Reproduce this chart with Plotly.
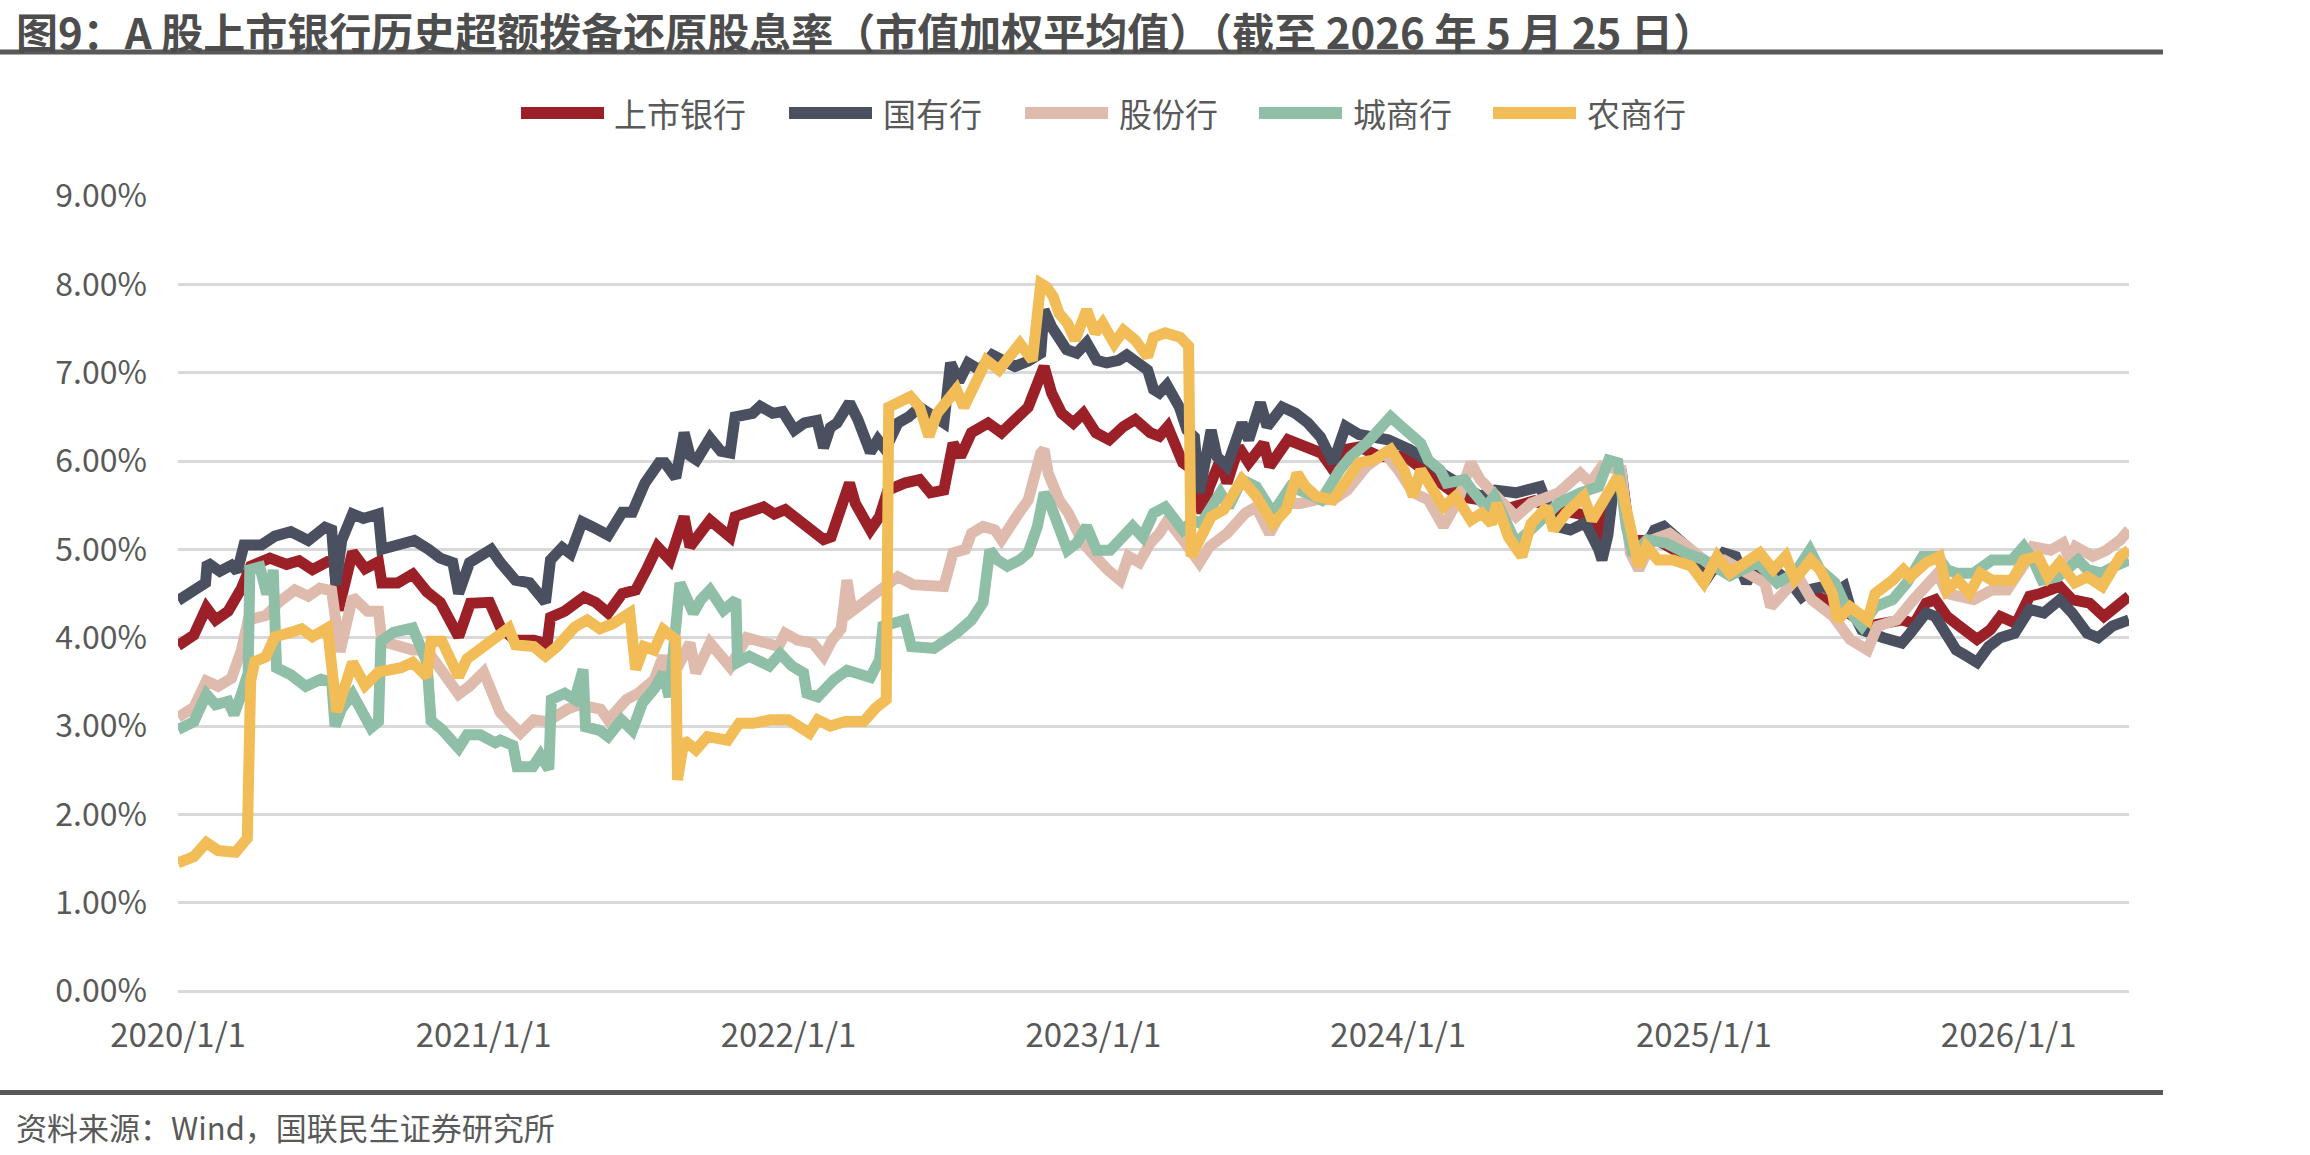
import plotly.graph_objects as go

# ---------------- data (values in %) ----------------
soe_dates = ["2020-01-01","2020-01-20","2020-02-03","2020-02-05","2020-02-20","2020-03-05","2020-03-12","2020-03-20","2020-04-10","2020-04-26",
"2020-05-15","2020-06-05","2020-06-25","2020-07-03","2020-07-08","2020-07-15","2020-07-28","2020-08-10","2020-08-28","2020-09-01",
"2020-09-20","2020-10-10","2020-10-27","2020-11-10","2020-11-25","2020-12-02","2020-12-15","2021-01-01","2021-01-10","2021-01-21",
"2021-02-08","2021-02-25","2021-03-16","2021-03-22","2021-04-05","2021-04-15","2021-04-29","2021-05-12","2021-05-30","2021-06-16",
"2021-06-28","2021-07-13","2021-07-30","2021-08-06","2021-08-19","2021-08-29","2021-09-05","2021-09-13","2021-09-29","2021-10-12",
"2021-10-23","2021-10-29","2021-11-19","2021-11-28","2021-12-13","2021-12-25","2022-01-08","2022-01-20","2022-02-04","2022-02-12",
"2022-02-20","2022-02-28","2022-03-15","2022-03-25","2022-04-09","2022-04-18","2022-04-27","2022-05-12","2022-05-25","2022-06-07",
"2022-06-20","2022-07-06","2022-07-14","2022-07-24","2022-08-04","2022-08-18","2022-09-02","2022-09-15","2022-09-29","2022-10-15",
"2022-10-30","2022-11-03","2022-11-12","2022-11-30","2022-12-12","2022-12-24","2023-01-05","2023-01-17","2023-01-31","2023-02-10",
"2023-02-22","2023-03-07","2023-03-14","2023-03-21","2023-03-30","2023-04-14","2023-04-23","2023-05-02","2023-05-08","2023-05-15",
"2023-05-22","2023-05-29","2023-06-10","2023-06-28","2023-07-06","2023-07-20","2023-07-28","2023-08-15","2023-08-31","2023-09-15",
"2023-09-30","2023-10-15","2023-10-30","2023-11-15","2023-12-02","2023-12-20","2024-01-15","2024-02-06","2024-02-24","2024-03-13",
"2024-04-08","2024-04-26","2024-05-21","2024-06-19","2024-07-08","2024-07-25","2024-08-12","2024-08-28","2024-09-01","2024-09-08",
"2024-09-14","2024-09-24","2024-09-28","2024-10-05","2024-10-18","2024-11-03","2024-11-14","2024-11-30","2024-12-15","2025-01-01",
"2025-01-15","2025-01-25","2025-02-08","2025-02-21","2025-03-05","2025-03-26","2025-04-15","2025-04-28","2025-05-10","2025-05-25",
"2025-06-05","2025-06-18","2025-06-25","2025-07-09","2025-08-04","2025-08-26","2025-09-05","2025-09-24","2025-10-05","2025-10-19",
"2025-10-30","2025-11-10","2025-11-24","2025-12-08","2025-12-22","2026-01-08","2026-01-26","2026-02-12","2026-03-03","2026-03-18",
"2026-04-05","2026-04-18","2026-05-05","2026-05-25"]
soe_vals = [4.42,4.55,4.62,4.85,4.75,4.82,4.75,5.05,5.05,5.15,
5.20,5.10,5.25,5.22,4.60,5.10,5.40,5.35,5.40,5.00,
5.05,5.10,5.00,4.90,4.85,4.50,4.85,4.95,5.00,4.85,
4.65,4.62,4.40,4.88,5.02,4.95,5.31,5.25,5.16,5.42,
5.42,5.75,5.98,5.98,5.81,6.32,6.06,6.01,6.26,6.11,
6.09,6.50,6.54,6.62,6.54,6.56,6.35,6.43,6.46,6.15,
6.38,6.43,6.66,6.47,6.10,6.24,6.13,6.43,6.50,6.61,
6.52,6.43,7.11,6.90,7.11,7.03,7.20,7.14,7.07,7.13,
7.22,7.71,7.52,7.26,7.22,7.34,7.14,7.11,7.14,7.20,
7.11,7.03,6.81,6.77,6.86,6.61,6.35,6.27,5.64,6.00,
6.35,6.05,5.94,6.43,6.24,6.66,6.39,6.61,6.54,6.43,
6.27,5.98,6.39,6.30,6.27,6.24,6.13,6.00,5.85,5.75,
5.60,5.67,5.64,5.71,5.26,5.22,5.30,5.00,4.88,5.16,
5.64,5.90,5.50,5.07,4.94,5.22,5.26,5.14,5.00,4.62,
4.85,4.96,4.92,4.62,4.85,4.77,4.62,4.46,4.55,4.58,
4.50,4.58,4.35,4.09,4.00,3.94,4.05,4.28,4.24,4.00,
3.86,3.80,3.72,3.90,4.00,4.05,4.32,4.28,4.43,4.28,
4.05,4.00,4.13,4.20]

all_dates = ["2020-01-01","2020-01-20","2020-02-04","2020-02-15","2020-03-01","2020-03-17","2020-03-28","2020-04-20","2020-05-10","2020-05-25",
"2020-06-10","2020-06-28","2020-07-06","2020-07-11","2020-07-28","2020-08-12","2020-08-28","2020-09-01","2020-09-20","2020-10-08",
"2020-10-25","2020-11-10","2020-12-02","2020-12-16","2021-01-08","2021-01-21","2021-02-08","2021-03-02","2021-03-18","2021-03-22",
"2021-04-08","2021-05-01","2021-05-15","2021-05-30","2021-06-16","2021-07-02","2021-07-15","2021-07-28","2021-08-12","2021-08-29",
"2021-09-05","2021-09-29","2021-10-23","2021-10-29","2021-12-02","2021-12-15","2021-12-28","2022-01-20","2022-02-12","2022-02-21",
"2022-03-15","2022-03-22","2022-04-09","2022-04-20","2022-04-30","2022-05-20","2022-06-07","2022-06-20","2022-07-06","2022-07-17",
"2022-07-26","2022-08-08","2022-08-28","2022-09-13","2022-09-28","2022-10-15","2022-11-03","2022-11-12","2022-11-24","2022-12-08",
"2022-12-20","2023-01-04","2023-01-20","2023-02-06","2023-02-20","2023-03-10","2023-03-21","2023-03-31","2023-04-18","2023-04-30",
"2023-05-11","2023-05-20","2023-06-02","2023-06-10","2023-06-24","2023-07-06","2023-07-24","2023-07-31","2023-08-22","2023-09-10",
"2023-10-01","2023-10-15","2023-10-30","2023-11-15","2023-12-10","2024-01-10","2024-02-06","2024-03-13","2024-04-15","2024-05-14",
"2024-06-12","2024-07-08","2024-08-06","2024-08-28","2024-09-14","2024-09-24","2024-10-05","2024-11-07","2025-01-01","2025-03-15",
"2025-04-20","2025-05-23","2025-06-20","2025-07-16","2025-08-26","2025-09-10","2025-09-24","2025-10-05","2025-10-19","2025-11-03",
"2025-11-24","2025-12-10","2025-12-22","2026-01-10","2026-01-26","2026-02-08","2026-03-03","2026-03-18","2026-04-08","2026-04-25",
"2026-05-08","2026-05-25"]
all_vals = [3.91,4.03,4.34,4.20,4.30,4.56,4.81,4.90,4.83,4.87,
4.77,4.86,4.85,4.31,4.97,4.78,4.86,4.62,4.62,4.72,
4.52,4.40,4.01,4.39,4.40,4.12,3.97,3.97,3.93,4.23,
4.30,4.46,4.40,4.28,4.50,4.54,4.77,5.03,4.88,5.37,
5.03,5.33,5.14,5.37,5.48,5.40,5.45,5.26,5.11,5.14,
5.75,5.52,5.22,5.37,5.67,5.75,5.79,5.64,5.67,6.20,
6.05,6.32,6.43,6.32,6.47,6.61,7.07,6.77,6.54,6.43,
6.54,6.32,6.24,6.39,6.47,6.32,6.28,6.39,5.98,5.90,
5.41,5.71,6.01,5.75,6.16,5.98,6.20,5.94,6.24,6.16,
6.09,5.90,6.13,6.16,6.05,6.05,5.85,5.60,5.55,5.47,
5.55,5.45,5.40,5.20,5.70,5.85,5.10,5.10,4.80,4.70,
4.60,4.45,4.30,4.13,4.20,4.16,4.39,4.43,4.24,4.13,
3.98,4.09,4.24,4.16,4.47,4.50,4.58,4.43,4.39,4.24,
4.35,4.47]

jsb_dates = ["2020-01-01","2020-01-20","2020-02-04","2020-02-18","2020-03-05","2020-03-17","2020-03-25","2020-04-15","2020-05-02","2020-05-20",
"2020-06-05","2020-06-19","2020-07-03","2020-07-13","2020-07-28","2020-08-15","2020-08-28","2020-09-01","2020-09-20","2020-10-08",
"2020-10-25","2020-11-10","2020-12-02","2020-12-15","2021-01-01","2021-01-21","2021-02-14","2021-03-02","2021-03-18","2021-04-11",
"2021-04-25","2021-05-21","2021-05-30","2021-06-21","2021-07-05","2021-07-24","2021-08-04","2021-08-11","2021-08-22","2021-09-05",
"2021-09-12","2021-09-29","2021-10-23","2021-11-12","2021-11-28","2021-12-20","2021-12-28","2022-01-12","2022-01-30","2022-02-12",
"2022-02-22","2022-03-05","2022-03-12","2022-03-18","2022-04-01","2022-04-20","2022-05-12","2022-05-30","2022-06-20","2022-07-06",
"2022-07-17","2022-08-01","2022-08-08","2022-08-22","2022-09-05","2022-09-13","2022-10-01","2022-10-15","2022-10-30","2022-11-03",
"2022-11-08","2022-11-21","2022-12-02","2022-12-20","2022-12-30","2023-01-08","2023-01-18","2023-02-02","2023-02-12","2023-02-25",
"2023-03-10","2023-03-21","2023-03-31","2023-04-18","2023-05-08","2023-05-20","2023-06-10","2023-07-02","2023-07-15","2023-07-31",
"2023-08-20","2023-09-06","2023-09-25","2023-10-15","2023-11-01","2023-11-24","2023-12-16","2024-01-01","2024-01-19","2024-02-06",
"2024-02-24","2024-03-13","2024-03-28","2024-04-08","2024-04-22","2024-05-21","2024-06-08","2024-07-11","2024-08-06","2024-08-18",
"2024-09-01","2024-09-24","2024-10-05","2024-10-15","2024-11-01","2024-11-21","2024-12-12","2025-01-05","2025-01-25","2025-02-15",
"2025-03-15","2025-03-22","2025-04-05","2025-04-24","2025-05-10","2025-05-23","2025-06-05","2025-06-25","2025-07-16","2025-07-28",
"2025-08-20","2025-09-09","2025-09-25","2025-10-08","2025-10-19","2025-11-03","2025-11-20","2025-12-12","2025-12-30","2026-01-23",
"2026-01-30","2026-02-20","2026-03-07","2026-03-15","2026-03-22","2026-04-12","2026-04-28","2026-05-15","2026-05-25"]
jsb_vals = [3.10,3.21,3.51,3.45,3.54,3.86,4.20,4.25,4.41,4.54,
4.47,4.56,4.53,3.84,4.46,4.30,4.30,3.96,3.91,3.86,
3.86,3.66,3.36,3.45,3.61,3.15,2.92,3.07,3.05,3.19,
3.24,3.19,3.07,3.30,3.37,3.52,3.79,3.60,3.68,3.94,
3.60,3.94,3.67,4.00,3.97,3.90,4.05,3.97,3.94,3.79,
3.97,4.10,4.65,4.30,4.40,4.54,4.69,4.60,4.58,4.58,
4.96,5.00,5.18,5.26,5.22,5.11,5.37,5.56,6.09,6.13,
5.86,5.56,5.41,5.07,4.96,4.85,4.77,4.65,4.92,4.85,
5.07,5.18,5.33,5.11,4.85,5.03,5.18,5.41,5.48,5.18,
5.52,5.52,5.56,5.56,5.67,5.94,6.09,5.90,5.64,5.56,
5.26,5.56,5.98,5.79,5.64,5.37,5.52,5.64,5.86,5.75,
5.94,5.90,4.96,4.77,5.11,5.18,5.03,4.85,4.88,4.77,
4.62,4.35,4.50,4.69,4.43,4.35,4.24,3.98,3.86,4.13,
4.20,4.43,4.62,4.73,4.50,4.47,4.43,4.54,4.54,4.88,
5.03,4.99,5.07,4.88,5.03,4.92,4.99,5.11,5.22]

csh_dates = ["2020-01-01","2020-01-20","2020-02-04","2020-02-15","2020-03-01","2020-03-08","2020-03-17","2020-03-25","2020-03-27","2020-04-08",
"2020-04-15","2020-04-22","2020-04-24","2020-04-28","2020-05-15","2020-06-02","2020-06-20","2020-07-03","2020-07-07","2020-07-15",
"2020-07-28","2020-08-19","2020-08-28","2020-08-31","2020-09-15","2020-09-28","2020-10-08","2020-10-25","2020-10-30","2020-11-12",
"2020-12-02","2020-12-12","2020-12-28","2021-01-15","2021-01-21","2021-02-05","2021-02-10","2021-03-01","2021-03-10","2021-03-20",
"2021-03-23","2021-04-08","2021-04-20","2021-04-30","2021-05-03","2021-05-20","2021-05-30","2021-06-15","2021-06-28","2021-07-10",
"2021-07-25","2021-08-04","2021-08-11","2021-08-24","2021-09-01","2021-09-09","2021-09-18","2021-09-29","2021-10-15","2021-10-30",
"2021-11-01","2021-11-15","2021-12-09","2021-12-22","2022-01-05","2022-01-19","2022-01-23","2022-02-05","2022-02-24","2022-03-12",
"2022-04-09","2022-04-20","2022-04-24","2022-05-20","2022-05-28","2022-06-24","2022-07-21","2022-08-08","2022-08-22","2022-08-30",
"2022-09-08","2022-09-20","2022-10-05","2022-10-15","2022-10-26","2022-11-03","2022-11-10","2022-11-21","2022-12-01","2022-12-12",
"2022-12-24","2023-01-05","2023-01-21","2023-02-05","2023-02-17","2023-03-01","2023-03-14","2023-03-28","2023-04-18","2023-05-01",
"2023-05-10","2023-06-02","2023-06-12","2023-06-28","2023-07-15","2023-08-04","2023-08-25","2023-09-13","2023-10-01","2023-10-23",
"2023-11-05","2023-11-24","2023-12-08","2023-12-23","2024-01-05","2024-01-19","2024-01-28","2024-02-06","2024-02-20","2024-02-28",
"2024-03-20","2024-04-01","2024-04-15","2024-04-25","2024-05-21","2024-06-12","2024-07-11","2024-08-06","2024-08-28","2024-09-09",
"2024-09-20","2024-09-30","2024-10-08","2024-10-25","2024-11-17","2024-12-10","2025-01-01","2025-02-01","2025-03-06","2025-03-30",
"2025-04-20","2025-05-08","2025-05-20","2025-06-07","2025-06-20","2025-07-09","2025-07-25","2025-08-15","2025-09-01","2025-09-20",
"2025-10-08","2025-10-19","2025-10-30","2025-11-20","2025-12-12","2026-01-05","2026-01-19","2026-01-30","2026-02-10","2026-03-01",
"2026-03-25","2026-04-05","2026-04-22","2026-05-08","2026-05-25"]
csh_vals = [2.96,3.05,3.36,3.24,3.28,3.13,3.36,3.60,4.77,4.80,
4.54,4.54,4.77,3.66,3.58,3.45,3.53,3.50,3.00,3.20,
3.36,2.98,3.05,3.96,4.06,4.10,4.11,3.72,3.06,2.96,
2.75,2.90,2.90,2.81,2.84,2.78,2.54,2.54,2.67,2.51,
3.30,3.37,3.30,3.64,2.99,2.95,2.88,3.07,2.95,3.26,
3.43,3.60,3.33,4.62,4.46,4.28,4.43,4.54,4.31,4.43,
3.72,3.79,3.68,3.82,3.68,3.60,3.37,3.33,3.52,3.63,
3.55,3.75,4.13,4.20,3.90,3.88,4.05,4.20,4.40,4.99,
4.88,4.81,4.88,4.96,5.26,5.64,5.52,5.26,4.99,5.07,
5.26,4.99,4.99,5.14,5.26,5.14,5.41,5.48,5.22,5.33,
5.29,5.64,5.48,5.79,5.71,5.41,5.71,5.64,5.56,5.90,
6.05,6.20,6.35,6.50,6.39,6.28,6.20,6.01,5.90,5.75,
5.79,5.64,5.48,5.60,5.07,5.26,5.52,5.64,5.71,6.01,
5.98,5.26,4.94,5.11,5.07,4.96,4.88,4.70,4.85,4.62,
4.73,4.99,4.77,4.62,4.35,4.13,4.35,4.43,4.62,4.92,
4.92,4.77,4.73,4.73,4.88,4.88,5.03,4.88,4.65,4.69,
4.88,4.77,4.73,4.81,4.88]

nsh_dates = ["2020-01-01","2020-01-20","2020-02-04","2020-02-18","2020-03-10","2020-03-24","2020-03-28","2020-04-02","2020-04-15","2020-04-26",
"2020-05-15","2020-05-28","2020-06-10","2020-06-28","2020-07-09","2020-07-20","2020-07-28","2020-08-12","2020-08-28","2020-09-24",
"2020-10-08","2020-10-25","2020-10-30","2020-11-12","2020-12-02","2020-12-12","2020-12-25","2021-01-10","2021-01-31","2021-02-08",
"2021-03-02","2021-03-16","2021-03-30","2021-04-20","2021-05-05","2021-05-20","2021-06-05","2021-06-25","2021-07-02","2021-07-12",
"2021-07-24","2021-08-04","2021-08-19","2021-08-21","2021-08-29","2021-09-12","2021-09-26","2021-10-20","2021-11-03","2021-11-20",
"2021-12-10","2022-01-01","2022-01-15","2022-01-26","2022-02-05","2022-02-20","2022-03-10","2022-04-01","2022-04-15","2022-04-28",
"2022-05-01","2022-05-15","2022-05-27","2022-06-07","2022-06-18","2022-06-28","2022-07-10","2022-07-21","2022-07-30","2022-08-08",
"2022-08-15","2022-08-26","2022-09-10","2022-09-25","2022-10-05","2022-10-20","2022-10-30","2022-11-06","2022-11-14","2022-11-21",
"2022-12-01","2022-12-10","2022-12-24","2023-01-03","2023-01-12","2023-01-26","2023-02-06","2023-02-20","2023-03-07","2023-03-14",
"2023-03-28","2023-04-15","2023-04-25","2023-04-28","2023-05-08","2023-05-22","2023-06-06","2023-06-28","2023-07-15","2023-08-04",
"2023-08-20","2023-09-02","2023-09-12","2023-09-25","2023-10-15","2023-10-30","2023-11-15","2023-12-02","2023-12-23","2024-01-08",
"2024-01-19","2024-01-28","2024-02-10","2024-02-24","2024-03-10","2024-03-28","2024-04-10","2024-04-22","2024-04-28","2024-05-12",
"2024-05-28","2024-06-08","2024-06-27","2024-07-05","2024-07-20","2024-08-10","2024-08-20","2024-09-02","2024-09-20","2024-09-27",
"2024-10-05","2024-10-15","2024-10-24","2024-11-07","2024-11-25","2024-12-17","2025-01-01","2025-01-17","2025-02-01","2025-02-25",
"2025-03-09","2025-03-25","2025-04-09","2025-04-20","2025-05-09","2025-05-20","2025-06-04","2025-06-10","2025-06-25","2025-07-16",
"2025-07-25","2025-08-15","2025-08-28","2025-09-05","2025-09-24","2025-10-10","2025-10-19","2025-11-01","2025-11-15","2025-11-28",
"2025-12-12","2026-01-05","2026-01-19","2026-02-05","2026-02-17","2026-03-03","2026-03-21","2026-04-05","2026-04-23","2026-05-05",
"2026-05-15","2026-05-25"]
nsh_vals = [1.45,1.52,1.68,1.59,1.57,1.73,3.51,3.73,3.78,4.01,
4.06,4.10,4.01,4.11,3.16,3.51,3.72,3.46,3.61,3.66,
3.72,3.56,3.96,3.96,3.56,3.76,3.86,3.96,4.11,3.92,
3.90,3.79,3.90,4.12,4.20,4.10,4.16,4.28,3.64,3.90,
3.86,4.09,3.98,2.39,2.84,2.73,2.88,2.84,3.03,3.03,
3.07,3.07,3.00,2.92,3.07,3.00,3.05,3.05,3.20,3.30,
6.61,6.66,6.73,6.61,6.28,6.54,6.66,6.81,6.61,6.81,
6.96,7.14,7.03,7.22,7.33,7.14,8.01,7.97,7.86,7.67,
7.56,7.37,7.71,7.45,7.56,7.33,7.48,7.37,7.18,7.40,
7.45,7.40,7.30,4.92,5.14,5.37,5.45,5.79,5.60,5.29,
5.45,5.86,5.71,5.60,5.56,5.79,5.98,6.01,6.13,5.90,
5.60,5.90,5.71,5.48,5.60,5.33,5.41,5.29,5.52,5.14,
4.92,5.29,5.48,5.22,5.41,5.60,5.33,5.52,5.82,5.60,
5.18,4.81,5.03,4.88,4.88,4.81,4.62,4.92,4.73,4.88,
4.96,4.77,4.92,4.66,4.88,4.77,4.50,4.20,4.35,4.20,
4.50,4.65,4.77,4.69,4.85,4.92,4.54,4.65,4.50,4.73,
4.65,4.65,4.88,4.92,4.69,4.85,4.62,4.69,4.58,4.77,
4.92,4.99]

series_names = ["上市银行", "国有行", "股份行", "城商行", "农商行"]
series_dates = [all_dates, soe_dates, jsb_dates, csh_dates, nsh_dates]
series_vals = [all_vals, soe_vals, jsb_vals, csh_vals, nsh_vals]
series_colors = ["#9B2027", "#4A5060", "#DFBBAE", "#8FBFA6", "#F2BC57"]

x_tick_vals = ["2020-01-01","2021-01-01","2022-01-01","2023-01-01","2024-01-01","2025-01-01","2026-01-01"]
x_tick_text = ["2020/1/1","2021/1/1","2022/1/1","2023/1/1","2024/1/1","2025/1/1","2026/1/1"]
y_tick_vals = [0, 1, 2, 3, 4, 5, 6, 7, 8, 9]
y_tick_text = ["0.00%","1.00%","2.00%","3.00%","4.00%","5.00%","6.00%","7.00%","8.00%","9.00%"]

title_text = "图9：A 股上市银行历史超额拨备还原股息率（市值加权平均值）（截至 2026 年 5 月 25 日）"
source_text = "资料来源：Wind，国联民生证券研究所"

# ---------------- layout geometry (pixels) ----------------
W, H = 2310, 1155
PL, PR, PT, PB = 178, 2129, 196, 991.5
FONT = "Noto Sans CJK SC"
TXT = "#595959"

def px(x):
    return (x - PL) / (PR - PL)

def py(y):
    return (PB - y) / (PB - PT)

fig = go.Figure()
for name, d, v, c in zip(series_names, series_dates, series_vals, series_colors):
    fig.add_trace(go.Scatter(x=d, y=v, mode="lines", name=name,
                             line=dict(color=c, width=11), showlegend=False))

shapes = []
annotations = []
# rules under title and above source
for yy in (52, 1093):
    shapes.append(dict(type="line", xref="paper", yref="paper",
                       x0=px(0), x1=px(2163), y0=py(yy), y1=py(yy),
                       line=dict(color="#595959", width=5)))
# manual legend
leg_y = 113
leg_x = [(521, 604, 612), (789, 872, 881), (1025, 1108, 1117), (1259, 1342, 1351), (1493, 1576, 1585)]
for (x0, x1, xt), name, c in zip(leg_x, series_names, series_colors):
    shapes.append(dict(type="line", xref="paper", yref="paper",
                       x0=px(x0), x1=px(x1), y0=py(leg_y), y1=py(leg_y),
                       line=dict(color=c, width=12)))
    annotations.append(dict(text=name, xref="paper", yref="paper", x=px(xt), y=py(leg_y),
                            xanchor="left", yanchor="middle", showarrow=False,
                            font=dict(family=FONT, size=33, color=TXT)))

annotations.append(dict(text="<b>" + title_text + "</b>", xref="paper", yref="paper",
                        x=px(14), y=py(30), xanchor="left", yanchor="middle", showarrow=False,
                        font=dict(family=FONT, size=42, color="#4D4D4D")))
annotations.append(dict(text=source_text, xref="paper", yref="paper",
                        x=px(14), y=py(1127), xanchor="left", yanchor="middle", showarrow=False,
                        font=dict(family=FONT, size=31, color=TXT)))

fig.update_layout(
    width=W, height=H,
    margin=dict(l=PL, r=W - PR, t=PT, b=H - PB, pad=0),
    paper_bgcolor="white", plot_bgcolor="white",
    font=dict(family=FONT, color=TXT, size=32),
    shapes=shapes, annotations=annotations,
    xaxis=dict(type="date", range=["2020-01-01", "2026-05-25"],
               tickvals=x_tick_vals, ticktext=x_tick_text, showgrid=False,
               zeroline=False, showline=False, ticks="",
               tickfont=dict(family=FONT, size=33, color=TXT), ticklabelstandoff=22),
    yaxis=dict(range=[0, 9], tickvals=y_tick_vals, ticktext=y_tick_text,
               showgrid=True, gridcolor="#D9D9D9", gridwidth=3,
               zeroline=True, zerolinecolor="#D9D9D9", zerolinewidth=3,
               showline=False, ticks="",
               tickfont=dict(family=FONT, size=32, color=TXT), ticklabelstandoff=30),
)

fig.write_html("out.html")
